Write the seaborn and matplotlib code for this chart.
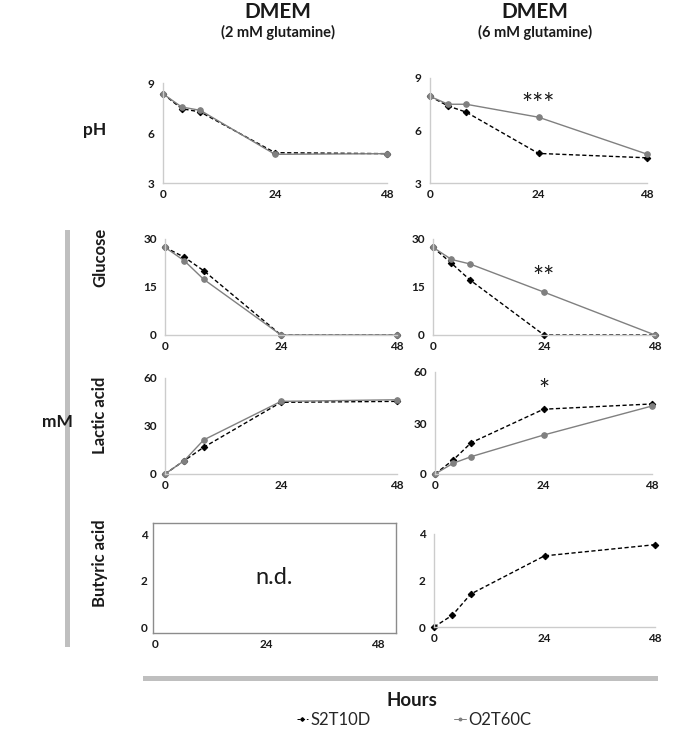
import pandas as pd
import matplotlib.pyplot as plt
import seaborn as sns
from matplotlib.patches import Rectangle

sns.set_style("white")
plt.rcParams['font.family'] = ['Lato', 'DejaVu Sans']

# data
hours = [0, 4, 8, 24, 48]
strains = ['S2T10D', 'O2T60C']

ph_2mm_s2 = [8.35, 7.46, 7.26, 4.82, 4.76]
ph_2mm_o2 = [8.35, 7.56, 7.36, 4.72, 4.76]
ph_6mm_s2 = [7.95, 7.4, 7.05, 4.69, 4.44]
ph_6mm_o2 = [7.95, 7.5, 7.5, 6.76, 4.65]

glc_2mm_s2 = [27.4, 24.3, 20.1, 0, 0]
glc_2mm_o2 = [27.4, 23.2, 17.4, 0, 0]
glc_6mm_s2 = [27.4, 22.4, 17.2, 0, 0]
glc_6mm_o2 = [27.4, 23.6, 22.2, 13.4, 0]

lac_2mm_s2 = [0, 8.4, 16.7, 44.8, 45.4]
lac_2mm_o2 = [0, 8.4, 21.3, 45.4, 46.4]
lac_6mm_s2 = [0, 8.2, 18.4, 38.1, 41.2]
lac_6mm_o2 = [0, 6.3, 10.2, 22.9, 40.0]

but_6mm_s2 = [0, 0.51, 1.42, 3.06, 3.54]

W, H = 675, 731
fig = plt.figure(figsize=(W / 100, H / 100), dpi=100)


def px_axes(x0, y0, x1, y1):
    return fig.add_axes([x0 / W, 1 - y1 / H, (x1 - x0) / W, (y1 - y0) / H])


styles = {
    'S2T10D': dict(color='black', marker='D', markersize=3.3, linestyle=(0, (3, 1.8))),
    'O2T60C': dict(color='#808080', marker='o', markersize=4.0, linestyle='-'),
}

TICK_FS = 8.5


def panel(ax, series, ylim, yticks, star=None):
    for name, vals in series:
        df = pd.DataFrame({'hours': hours, 'value': vals})
        st = styles[name]
        sns.lineplot(data=df, x='hours', y='value', ax=ax, color=st['color'],
                     marker=st['marker'], markersize=st['markersize'],
                     markeredgecolor=st['color'], linestyle=st['linestyle'],
                     linewidth=1.0, clip_on=False, estimator=None, sort=False)
    ax.set_xlim(0, 48)
    ax.set_ylim(*ylim)
    ax.set_xticks([0, 24, 48])
    ax.set_yticks(yticks)
    ax.set_xlabel('')
    ax.set_ylabel('')
    for s in ['top', 'right']:
        ax.spines[s].set_visible(False)
    for s in ['left', 'bottom']:
        ax.spines[s].set_color('#cccccc')
        ax.spines[s].set_linewidth(1.0)
    ax.tick_params(axis='x', direction='in', length=4, color='#cccccc',
                   labelsize=TICK_FS, labelcolor='#1a1a1a', pad=4)
    ax.tick_params(axis='y', direction='out', length=2, color='#cccccc',
                   labelsize=TICK_FS, labelcolor='#1a1a1a', pad=4)
    for lab in ax.get_xticklabels() + ax.get_yticklabels():
        lab.set_fontweight('bold')
    if star:
        ax.text(star[0], star[1], star[2], ha='center', va='center',
                fontsize=19, color='#1a1a1a')


# pH
ax = px_axes(163, 83, 387, 183)
panel(ax, [('S2T10D', ph_2mm_s2), ('O2T60C', ph_2mm_o2)], (3, 9), [3, 6, 9])
ax = px_axes(430, 78, 647, 183)
panel(ax, [('S2T10D', ph_6mm_s2), ('O2T60C', ph_6mm_o2)], (3, 9), [3, 6, 9],
      star=(24, 7.45, '***'))

# Glucose
ax = px_axes(165, 239, 397, 335)
panel(ax, [('S2T10D', glc_2mm_s2), ('O2T60C', glc_2mm_o2)], (0, 30), [0, 15, 30])
ax = px_axes(433, 239, 655, 335)
panel(ax, [('S2T10D', glc_6mm_s2), ('O2T60C', glc_6mm_o2)], (0, 30), [0, 15, 30],
      star=(24, 17.8, '**'))

# Lactic acid
ax = px_axes(165, 378, 397, 474)
panel(ax, [('S2T10D', lac_2mm_s2), ('O2T60C', lac_2mm_o2)], (0, 60), [0, 30, 60])
ax = px_axes(435, 372, 652, 474)
panel(ax, [('S2T10D', lac_6mm_s2), ('O2T60C', lac_6mm_o2)], (0, 60), [0, 30, 60],
      star=(24, 48.5, '*'))

# Butyric acid
ax = px_axes(153, 523, 396, 633)
ax.set_xlim(-0.4, 52)
ax.set_ylim(-0.26, 4.52)
ax.set_xticks([0, 24, 48])
ax.set_yticks([0, 2, 4])
for s in ax.spines.values():
    s.set_color('#8c8c8c')
    s.set_linewidth(1.0)
ax.tick_params(axis='both', length=0, labelsize=TICK_FS, labelcolor='#1a1a1a', pad=4)
for lab in ax.get_xticklabels() + ax.get_yticklabels():
    lab.set_fontweight('bold')
ax.text(0.5, 0.5, 'n.d.', transform=ax.transAxes, ha='center', va='center',
        fontsize=17, color='#1a1a1a')

ax = px_axes(434, 534, 655, 627)
panel(ax, [('S2T10D', but_6mm_s2)], (0, 4), [0, 2, 4])

# column headers
for xc, sub in [(278, '(2 mM glutamine)'), (535, '(6 mM glutamine)')]:
    fig.text(xc / W, 1 - 12 / H, 'DMEM', ha='center', va='center',
             fontsize=15, fontweight='bold', color='#1a1a1a')
    fig.text(xc / W, 1 - 32 / H, sub, ha='center', va='center',
             fontsize=10.5, fontweight='bold', color='#1a1a1a')

# row labels
fig.text(95 / W, 1 - 130 / H, 'pH', ha='center', va='center',
         fontsize=12.5, fontweight='bold', color='#1a1a1a')
for yc, lab in [(257, 'Glucose'), (415, 'Lactic acid'), (563, 'Butyric acid')]:
    fig.text(100 / W, 1 - yc / H, lab, ha='center', va='center', rotation=90,
             fontsize=12, fontweight='bold', color='#1a1a1a')
fig.text(57 / W, 1 - 422 / H, 'mM', ha='center', va='center',
         fontsize=12.5, fontweight='bold', color='#1a1a1a')

# grey brackets
fig.add_artist(Rectangle((65 / W, 1 - 647 / H), 4.5 / W, (647 - 230) / H,
                         transform=fig.transFigure, color='#bfbfbf', lw=0))
fig.add_artist(Rectangle((143 / W, 1 - 681 / H), (658 - 143) / W, 5 / H,
                         transform=fig.transFigure, color='#bfbfbf', lw=0))

fig.text(412 / W, 1 - 700 / H, 'Hours', ha='center', va='center',
         fontsize=13.5, fontweight='bold', color='#1a1a1a')

# legend
handles = []
for name in strains:
    st = styles[name]
    h, = plt.plot([], [], color=st['color'], marker=st['marker'], markersize=1.8,
                  linestyle=st['linestyle'], linewidth=0.7)
    handles.append(h)
fig.legend(handles, strains, loc='center', bbox_to_anchor=(414 / W, 1 - 720 / H),
           ncol=2, frameon=False, fontsize=12, handlelength=0.7, handletextpad=0.15,
           columnspacing=5.0, borderpad=0)

fig.savefig('out.png', dpi=100)
